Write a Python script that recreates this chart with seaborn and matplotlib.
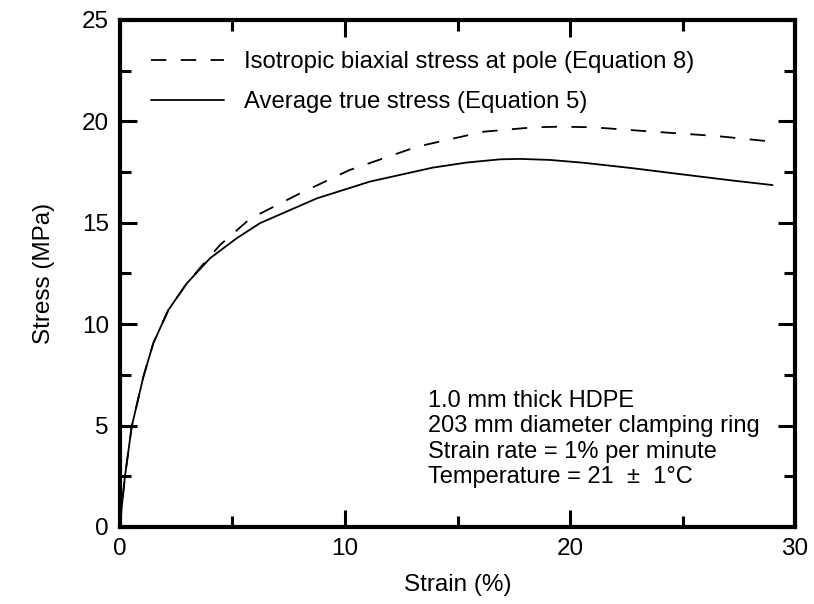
import numpy as np
import pandas as pd
import matplotlib
matplotlib.use("Agg")
import matplotlib.pyplot as plt
import seaborn as sns
from matplotlib.ticker import MultipleLocator

sns.set_style("ticks")
plt.rcParams['font.family'] = ['Liberation Sans', 'DejaVu Sans']
plt.rcParams['text.color'] = 'black'
plt.rcParams['axes.labelcolor'] = 'black'
plt.rcParams['xtick.color'] = 'black'
plt.rcParams['ytick.color'] = 'black'

# Average true stress (Equation 5)
strain_avg = [0, 0.07, 0.22, 0.52, 1.04, 1.48, 2.15, 2.96, 4.0, 5.19, 6.22, 8.74,
              11.1, 13.9, 15.4, 16.9, 17.8, 19.1, 20.6, 22.8, 24.6, 27.1, 29.0]
stress_avg = [0, 0.9, 2.48, 4.95, 7.41, 9.06, 10.7, 12.0, 13.25, 14.24, 14.98, 16.2,
              17.03, 17.72, 17.97, 18.13, 18.15, 18.1, 17.96, 17.69, 17.44, 17.1, 16.86]

# Isotropic biaxial stress at pole (Equation 8)
strain_pole = [0, 0.07, 0.22, 0.52, 1.04, 1.48, 2.15, 2.96, 3.5, 4.44, 5.78, 8.0,
               10.2, 13.2, 16.15, 18.4, 19.6, 21.0, 23.6, 26.5, 29.0]
stress_pole = [0, 0.9, 2.48, 4.95, 7.41, 9.06, 10.7, 12.0, 12.7, 13.9, 15.2, 16.45,
               17.6, 18.75, 19.49, 19.71, 19.74, 19.71, 19.5, 19.28, 19.0]

label_pole = "Isotropic biaxial stress at pole (Equation 8)"
label_avg = "Average true stress (Equation 5)"

df = pd.concat([
    pd.DataFrame({"Strain": strain_pole, "Stress": stress_pole, "Series": label_pole}),
    pd.DataFrame({"Strain": strain_avg, "Stress": stress_avg, "Series": label_avg}),
])

fig = plt.figure(figsize=(8.14, 6.04), dpi=100)
ax = fig.add_axes([0.1474, 0.1275, 0.8293, 0.8394])

sns.lineplot(data=df, x="Strain", y="Stress", hue="Series", style="Series",
             palette={label_pole: "black", label_avg: "black"},
             dashes={label_pole: (8.5, 8), label_avg: ""},
             linewidth=1.3, sort=False, estimator=None, ax=ax, legend=True)

ax.set_xlim(0, 30)
ax.set_ylim(0, 25)
ax.xaxis.set_major_locator(MultipleLocator(10))
ax.xaxis.set_minor_locator(MultipleLocator(5))
ax.yaxis.set_major_locator(MultipleLocator(5))
ax.yaxis.set_minor_locator(MultipleLocator(2.5))
ax.tick_params(which="both", direction="in", top=True, right=True, width=2.2,
               labelsize=17.5, pad=8, colors="black")
ax.tick_params(which="major", length=12)
ax.tick_params(which="minor", length=8)
for s in ax.spines.values():
    s.set_linewidth(3)
    s.set_color("black")

ax.set_xlabel("Strain (%)", fontsize=17.5, labelpad=10)
ax.set_ylabel("Stress (MPa)", fontsize=17.5, labelpad=19)

leg = ax.legend(loc="upper left", bbox_to_anchor=(0.0, 1.0), frameon=False,
                fontsize=17.2, handlelength=3.05, handletextpad=0.85,
                labelspacing=0.75, borderaxespad=0.9)
for line in leg.get_lines():
    line.set_linewidth(1.3)

ax.text(0.456, 0.0868, "1.0 mm thick HDPE\n203 mm diameter clamping ring\n"
        "Strain rate = 1% per minute\nTemperature = 21  ±  1°C",
        transform=ax.transAxes, fontsize=17, va="baseline", ha="left",
        linespacing=1.2)

fig.savefig("out.png", dpi=100)
